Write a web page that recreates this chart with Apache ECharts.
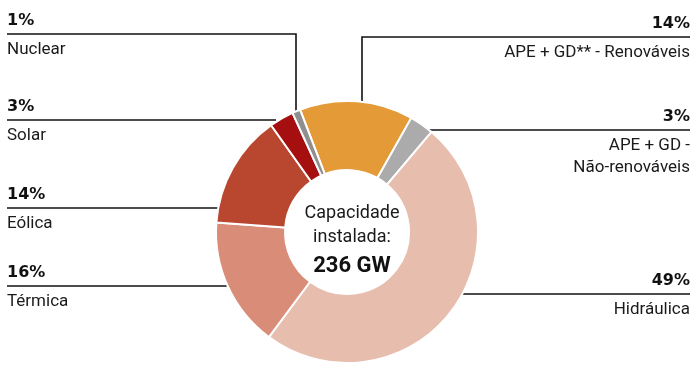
<!DOCTYPE html>
<html><head><meta charset="utf-8">
<script src="https://cdn.jsdelivr.net/npm/echarts@6/dist/echarts.min.js"></script>
<style>html,body{margin:0;padding:0;background:#fff}#c{width:699px;height:366px}</style>
</head><body><div id="c"></div>
<script>
const categories = ['APE + GD** - Renováveis', 'APE + GD -\nNão-renováveis', 'Hidráulica', 'Térmica', 'Eólica', 'Solar', 'Nuclear'];
const shares = [14, 3, 49, 16, 14, 3, 1];
const centerLines = ['Capacidade', 'instalada:'];
const totalLabel = '236 GW';

// styling / layout (not data)
const colors = ['#E49A36', '#ABABAB', '#E7BDAE', '#D98D79', '#B9472F', '#A60F0F', '#8F8F8F'];
const guides = [
  { align: 'right', x: 690, lineY: 37, pts: [[362, 104], [362, 37], [690, 37]] },
  { align: 'right', x: 690, lineY: 130, pts: [[415, 130], [690, 130]] },
  { align: 'right', x: 690, lineY: 294, pts: [[437, 294], [690, 294]] },
  { align: 'left', x: 7, lineY: 286, pts: [[246, 286], [7, 286]] },
  { align: 'left', x: 7, lineY: 208, pts: [[236, 208], [7, 208]] },
  { align: 'left', x: 7, lineY: 120, pts: [[276, 120], [7, 120]] },
  { align: 'left', x: 7, lineY: 34, pts: [[296, 117], [296, 34], [7, 34]] }
];

const chart = echarts.init(document.getElementById('c'), null, { renderer: 'canvas' });
const FONT = 'Roboto, "Liberation Sans", sans-serif';
const BOLD = '"DejaVu Sans", sans-serif';
chart.setOption({
  animation: false,
  title: {
    text: '{a|' + centerLines[0] + '}\n{a|' + centerLines[1] + '}\n{b|' + totalLabel + '}',
    left: 347, top: 196, textAlign: 'center',
    textStyle: {
      rich: {
        a: { fontFamily: FONT, fontSize: 18, fontWeight: 'normal', lineHeight: 24, color: '#1a1a1a', align: 'center' },
        b: { fontFamily: FONT, fontSize: 22, fontWeight: 'bold', lineHeight: 34, color: '#111', align: 'center' }
      }
    }
  },
  series: [{
    type: 'pie',
    center: [347, 232],
    radius: [62, 131],
    startAngle: 111,
    clockwise: true,
    avoidLabelOverlap: false,
    itemStyle: { borderColor: '#fff', borderWidth: 2 },
    data: categories.map((n, i) => ({ name: n, value: shares[i], itemStyle: { color: colors[i] } })),
    label: {
      show: true,
      position: 'outside',
      formatter: p => '{p|' + p.value + '%}\n{g| }\n' + p.name.split('\n').map(s => '{n|' + s + '}').join('\n'),
      rich: {
        p: { fontFamily: BOLD, fontSize: 16, fontWeight: 'bold', lineHeight: 26, color: '#111' },
        g: { fontSize: 1, lineHeight: 5 },
        n: { fontFamily: FONT, fontSize: 17, lineHeight: 22, color: '#1a1a1a' }
      }
    },
    labelLine: { show: true, smooth: false, lineStyle: { color: '#111', width: 1.6 } },
    labelLayout: function (params) {
      const g = guides[params.dataIndex];
      return { x: g.x, y: g.lineY - 26, align: g.align, verticalAlign: 'top', labelLinePoints: g.pts };
    },
    emphasis: { disabled: true }
  }]
});
</script></body></html>
